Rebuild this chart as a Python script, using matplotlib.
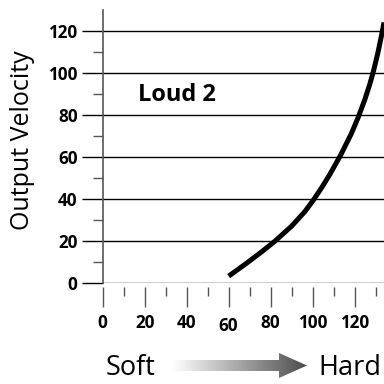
import numpy as np
import matplotlib.pyplot as plt
from matplotlib.patches import Polygon

# curve
in_vel = [60, 68.6, 76, 82, 90, 96.3, 100.3, 104.5, 108.2, 113.3, 118.4,
          121.7, 124.9, 127.2, 128.9, 131, 132.9, 134]
out_vel = [3.4, 9.6, 15.2, 20.0, 27.2, 34.1, 39.5, 45.8, 51.8, 60.9, 71.1,
           78.9, 87.5, 94.6, 100.6, 109.2, 118.3, 124.1]

x_major = [0, 20, 40, 60, 80, 100, 120]
x_minor = [10, 30, 50, 70, 90, 110, 130]
y_major = [0, 20, 40, 60, 80, 100, 120]
y_minor = [10, 30, 50, 70, 90, 110]

plt.rcParams['font.family'] = ['Open Sans', 'DejaVu Sans']

fig = plt.figure(figsize=(3.84, 3.84), dpi=100)
ax = fig.add_axes([102.7/384, 100.7/384, 1 - 102.7/384, 273.3/384])
ax.set_xlim(0, 134)
ax.set_ylim(0, 130)

for s in ['top', 'right', 'bottom']:
    ax.spines[s].set_visible(False)
ax.spines['left'].set_color('#555555')
ax.spines['left'].set_linewidth(1.2)
ax.spines['bottom'].set_position(('outward', 2.5))

ax.set_yticks(y_major)
ax.set_yticks(y_minor, minor=True)
ax.set_yticklabels([str(v) for v in y_major], fontsize=12.3, fontweight='bold')
ax.tick_params(axis='y', which='major', length=15, width=1.0, color='black', pad=3)
ax.tick_params(axis='y', which='minor', length=7, width=1.0, color='#555555')

ax.set_xticks(x_major)
ax.set_xticks(x_minor, minor=True)
ax.set_xticklabels([str(v) for v in x_major], fontsize=12.3, fontweight='bold')
ax.tick_params(axis='x', which='major', length=14.5, width=1.0, color='#555555', pad=5)
ax.tick_params(axis='x', which='minor', length=6.5, width=1.0, color='#555555')
# the "60" label sits a bit lower in the original
ax.get_xticklabels()[3].set_y(-0.012)

ax.grid(axis='y', which='major', color='black', linewidth=1.0)
ax.set_axisbelow(True)

ax.plot(in_vel, out_vel, color='black', linewidth=3.6, solid_capstyle='butt',
        solid_joinstyle='round', clip_on=False)
ax.text(17, 89.7, 'Loud 2', fontsize=17, fontweight='bold', va='center', ha='left')

fig.text(23/384, 1 - 140/384, 'Output Velocity', rotation=90, fontsize=18,
         ha='center', va='center')

# Soft -> Hard gradient arrow (pixel space overlay)
ov = fig.add_axes([0, 0, 1, 1], zorder=5)
ov.set_xlim(0, 384)
ov.set_ylim(384, 0)
ov.axis('off')
ov.text(106, 375, 'Soft', fontsize=19.5, ha='left', va='baseline')
ov.text(381, 375, 'Hard', fontsize=19.5, ha='right', va='baseline')
arrow = Polygon([(172, 360), (279, 360), (279, 353), (307, 365.5), (279, 378),
                 (279, 371), (172, 371)], closed=True, facecolor='none', edgecolor='none')
ov.add_patch(arrow)
grad = np.linspace(1.0, 0.3, 256).reshape(1, -1)
im = ov.imshow(grad, cmap='gray', vmin=0, vmax=1, extent=[172, 307, 378, 353], aspect='auto')
im.set_clip_path(arrow)

fig.savefig('out.png', dpi=100)
